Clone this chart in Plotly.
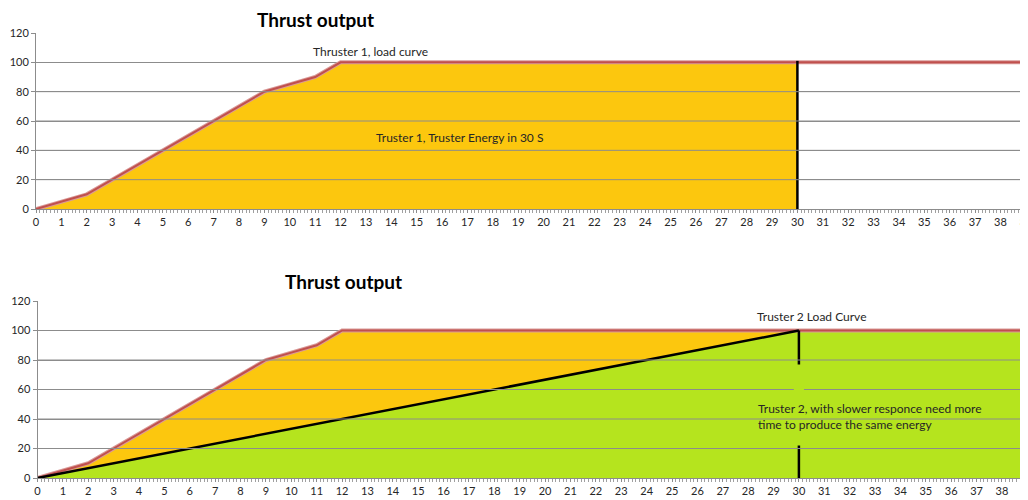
import plotly.graph_objects as go

# ---- data ----
time_s = list(range(0, 41))
thruster1 = [0, 5, 10, 20, 30, 40, 50, 60, 70, 80, 85, 90] + [100] * 29
energy_end = 30
ramp_time = [0, 30, 40]
thruster2 = [0, 100, 100]
y_ticks = [0, 20, 40, 60, 80, 100, 120]
x_ticks = list(range(0, 40))

YELLOW = "#FCC70E"
GREEN = "#B5E41E"
RED = "#C0504D"
RED_EDGE = "#D99A98"
GRID = "#8C8C8C"
TXT = "#262626"
FONT = "Lato"

# page body has an 8px margin -> figure origin sits at (8, 8) of the window
OFF = 8
W, H = 1028 - OFF, 500 - OFF
ml, mt = 36 - OFF, 33 - OFF
mb = H - (478 - OFF)
plot_w = W - ml
plot_h = H - mt - mb


def py(ref_y):
    return (H - mb - (ref_y - OFF)) / plot_h


def px(ref_x):
    return (ref_x - OFF - ml) / plot_w


top_dom = [py(209), 1.0]
bot_dom = [0.0, py(301)]
px_per_unit = 25.38
top_xmax = plot_w / px_per_unit
bot_off = 1.5
bot_xmax = (plot_w - bot_off) / px_per_unit

fig = go.Figure()

t_idx = [t for t in time_s if t <= energy_end]
t1_area = [thruster1[time_s.index(t)] for t in t_idx]

# ---- top chart ----
fig.add_trace(go.Scatter(x=t_idx, y=t1_area, fill="tozeroy", fillcolor=YELLOW,
                         mode="lines", line=dict(width=0), xaxis="x", yaxis="y",
                         hoverinfo="skip"))
fig.add_trace(go.Scatter(x=time_s, y=thruster1, mode="lines",
                         line=dict(color=RED_EDGE, width=4), xaxis="x", yaxis="y"))
fig.add_trace(go.Scatter(x=time_s, y=thruster1, mode="lines",
                         line=dict(color=RED, width=2), xaxis="x", yaxis="y"))
fig.add_trace(go.Scatter(x=[energy_end, energy_end], y=[0, 101], mode="lines",
                         line=dict(color="black", width=2.5), xaxis="x", yaxis="y"))

# ---- bottom chart ----
fig.add_trace(go.Scatter(x=t_idx, y=t1_area, fill="tozeroy", fillcolor=YELLOW,
                         mode="lines", line=dict(width=0), xaxis="x2", yaxis="y2"))
fig.add_trace(go.Scatter(x=ramp_time, y=thruster2, fill="tozeroy", fillcolor=GREEN,
                         mode="lines", line=dict(width=0), xaxis="x2", yaxis="y2"))
fig.add_trace(go.Scatter(x=time_s, y=thruster1, mode="lines",
                         line=dict(color=RED_EDGE, width=4), xaxis="x2", yaxis="y2"))
fig.add_trace(go.Scatter(x=time_s, y=thruster1, mode="lines",
                         line=dict(color=RED, width=2), xaxis="x2", yaxis="y2"))
fig.add_trace(go.Scatter(x=ramp_time[:2], y=thruster2[:2], mode="lines",
                         line=dict(color="black", width=2.5), xaxis="x2", yaxis="y2"))
fig.add_trace(go.Scatter(x=[energy_end, energy_end, None, energy_end, energy_end],
                         y=[100, 77, None, 22, 0], mode="lines",
                         line=dict(color="black", width=2.5), xaxis="x2", yaxis="y2"))

axis_common = dict(
    tickfont=dict(family=FONT, size=11, color=TXT),
    showline=True, linecolor=GRID, linewidth=1, zeroline=False, automargin=False,
)
xcommon = dict(axis_common, tickmode="array", tickvals=x_ticks, showgrid=False,
               ticks="outside", ticklen=3, tickcolor=GRID, ticklabeloverflow="allow",
               minor=dict(dtick=1 / 7, ticks="outside", ticklen=3, tickcolor="#A0A0A0"))
ycommon = dict(axis_common, tickmode="array", tickvals=y_ticks, range=[0, 120],
               showgrid=True, gridcolor=GRID, gridwidth=1,
               ticks="outside", ticklen=4, tickcolor=GRID)

fig.update_layout(
    width=W, height=H,
    margin=dict(l=ml, r=0, t=mt, b=mb, autoexpand=False),
    paper_bgcolor="white", plot_bgcolor="white",
    showlegend=False,
    xaxis=dict(xcommon, domain=[0, 1], range=[0, top_xmax], anchor="y"),
    yaxis=dict(ycommon, domain=top_dom, anchor="x"),
    xaxis2=dict(xcommon, domain=[bot_off / plot_w, 1], range=[0, bot_xmax], anchor="y2"),
    yaxis2=dict(ycommon, domain=bot_dom, anchor="x2"),
)

# gridlines drawn over the filled areas (as in the original)
for yv in [20, 40, 60, 80]:
    fig.add_shape(type="line", xref="x domain", yref="y", x0=0, x1=1, y0=yv, y1=yv,
                  line=dict(color=GRID, width=1), layer="above")
    if yv == 60:
        fig.add_shape(type="line", xref="x2", yref="y2", x0=0, x1=29.8, y0=yv, y1=yv,
                      line=dict(color=GRID, width=1), layer="above")
        fig.add_shape(type="line", xref="x2", yref="y2", x0=30.2, x1=bot_xmax, y0=yv, y1=yv,
                      line=dict(color=GRID, width=1), layer="above")
    else:
        fig.add_shape(type="line", xref="x2 domain", yref="y2", x0=0, x1=1, y0=yv, y1=yv,
                      line=dict(color=GRID, width=1), layer="above")

title_font = dict(family=FONT, size=19, color="black")
fig.add_annotation(text="<b>Thrust output</b>", xref="paper", yref="paper",
                   x=px(315), y=py(19), showarrow=False, font=title_font, borderpad=0,
                   xanchor="center", yanchor="middle")
fig.add_annotation(text="<b>Thrust output</b>", xref="paper", yref="paper",
                   x=px(343), y=py(281), showarrow=False, font=title_font, borderpad=0,
                   xanchor="center", yanchor="middle")

lab_font = dict(family=FONT, size=12, color=TXT)
fig.add_annotation(text="Thruster 1, load curve", xref="x", yref="y", x=13.16, y=107.7,
                   showarrow=False, font=lab_font)
fig.add_annotation(text="Truster 1, Truster Energy in 30 S", xref="x", yref="y",
                   x=16.67, y=49, showarrow=False, font=lab_font)
fig.add_annotation(text="Truster 2 Load Curve", xref="x2", yref="y2", x=30.5, y=109.8,
                   showarrow=False, font=lab_font)
fig.add_annotation(text="Truster 2, with slower responce need more<br>time to produce the same energy",
                   xref="x2", yref="y2", x=28.3, y=41.4, xanchor="left", align="left",
                   showarrow=False, font=lab_font)

fig.write_html("out.html")
